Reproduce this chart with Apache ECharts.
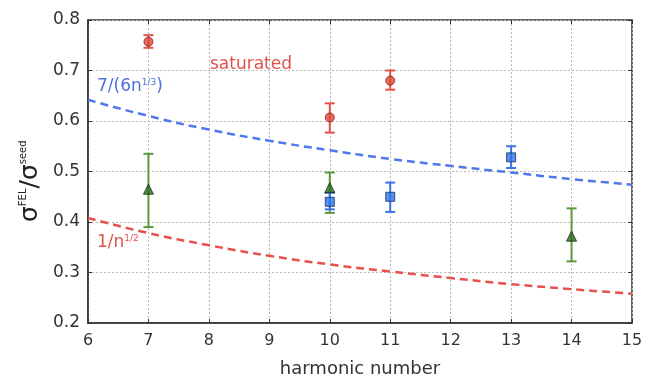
<!DOCTYPE html>
<html>
<head>
<meta charset="utf-8">
<script src="https://cdn.jsdelivr.net/npm/echarts@6/dist/echarts.min.js"></script>
<style>
  html, body { margin: 0; padding: 0; background: #fff; }
  #chart { width: 646px; height: 383px; }
</style>
</head>
<body>
<div id="chart"></div>
<script>
var curveN = [6, 7, 8, 9, 10, 11, 12, 13, 14, 15]
// 7/(6n^1/3) curve
var blueCurve = [0.642, 0.610, 0.583, 0.561, 0.542, 0.525, 0.511, 0.498, 0.485, 0.474]
// 1/n^1/2 curve
var redCurve = [0.408, 0.378, 0.354, 0.333, 0.316, 0.302, 0.289, 0.277, 0.267, 0.258]

// measured points: [n, value, low, high]
var saturated = [[7, 0.757, 0.745, 0.770], [10, 0.607, 0.577, 0.635], [11, 0.680, 0.662, 0.700]]
var greenPts = [[7, 0.465, 0.390, 0.535], [10, 0.468, 0.418, 0.498], [14, 0.372, 0.322, 0.427]]
var bluePts = [[10, 0.440, 0.425, 0.458], [11, 0.450, 0.420, 0.478], [13, 0.528, 0.507, 0.550]]

var xTicks = [6, 7, 8, 9, 10, 11, 12, 13, 14, 15]
var yTicks = [0.2, 0.3, 0.4, 0.5, 0.6, 0.7, 0.8]

var chart = echarts.init(document.getElementById('chart'))

function pairs(xs, ys) {
  return xs.map(function(x, i) { return [x, ys[i]] })
}

function errBar(color) {
  return function(params, api) {
    var x = api.value(0)
    var lo = api.coord([x, api.value(2)])
    var hi = api.coord([x, api.value(3)])
    var w = 5
    var st = { stroke: color, lineWidth: 2 }
    return {
      type: 'group',
      children: [
        { type: 'line', shape: { x1: lo[0], y1: lo[1], x2: hi[0], y2: hi[1] }, style: st },
        { type: 'line', shape: { x1: lo[0] - w, y1: lo[1], x2: lo[0] + w, y2: lo[1] }, style: st },
        { type: 'line', shape: { x1: hi[0] - w, y1: hi[1], x2: hi[0] + w, y2: hi[1] }, style: st }
      ]
    }
  }
}

var font = 'DejaVu Sans'
var gridLine = { show: true, lineStyle: { color: '#b8b8b8', type: [2, 2], width: 1 } }

chart.setOption({
  animation: false,
  backgroundColor: '#fff',
  grid: { left: 88, right: 14, top: 20, bottom: 59, show: true, borderColor: '#333', borderWidth: 1.5 },
  xAxis: [
    {
      type: 'value', min: 6, max: 15, interval: 1,
      name: 'harmonic number', nameLocation: 'middle', nameGap: 37,
      nameTextStyle: { fontFamily: font, fontSize: 18, color: '#333' },
      axisLine: { lineStyle: { color: '#333', width: 1.5 } },
      axisTick: { inside: true, length: 4, lineStyle: { color: '#333' } },
      axisLabel: { fontFamily: font, fontSize: 16, color: '#333', margin: 10,
        formatter: function(v) { return xTicks.indexOf(v) >= 0 ? String(v) : '' } },
      splitLine: gridLine
    },
    {
      type: 'value', min: 6, max: 15, interval: 1, position: 'top',
      axisLine: { show: false }, axisLabel: { show: false }, splitLine: { show: false },
      axisTick: { inside: true, length: 4, lineStyle: { color: '#333' } }
    }
  ],
  yAxis: [
    {
      type: 'value', min: 0.2, max: 0.8, interval: 0.1,
      axisLine: { show: true, lineStyle: { color: '#333', width: 1.5 } },
      axisTick: { show: true, inside: true, length: 4, lineStyle: { color: '#333' } },
      axisLabel: { fontFamily: font, fontSize: 17, color: '#333', margin: 8,
        formatter: function(v) { return v.toFixed(1) } },
      splitLine: gridLine
    },
    {
      type: 'value', min: 0.2, max: 0.8, interval: 0.1, position: 'right',
      axisLine: { show: false }, axisLabel: { show: false }, splitLine: { show: false },
      axisTick: { show: true, inside: true, length: 4, lineStyle: { color: '#333' } }
    }
  ],
  graphic: [
    {
      type: 'text', x: 18, y: 222, rotation: Math.PI / 2,
      style: {
        text: '{b|σ}{s|FEL}{b|/σ}{s|seed}',
        fill: '#222',
        rich: {
          b: { fontFamily: font, fontSize: 25, fill: '#222', verticalAlign: 'bottom' },
          s: { fontFamily: font, fontSize: 10, fill: '#222', verticalAlign: 'top', padding: [0, 0, 14, 0] }
        }
      }
    },
    {
      type: 'text', x: 210, y: 56,
      style: { text: 'saturated', fill: '#e0534d', fontFamily: font, fontSize: 17 }
    },
    {
      type: 'text', x: 97, y: 78,
      style: {
        text: '{b|7/(6n}{s|1/3}{b|)}',
        rich: {
          b: { fontFamily: font, fontSize: 17, fill: '#4a73e0', verticalAlign: 'bottom' },
          s: { fontFamily: font, fontSize: 9, fill: '#4a73e0', verticalAlign: 'top', padding: [0, 0, 8, 0] }
        }
      }
    },
    {
      type: 'text', x: 97, y: 234,
      style: {
        text: '{b|1/n}{s|1/2}',
        rich: {
          b: { fontFamily: font, fontSize: 17, fill: '#e0534d', verticalAlign: 'bottom' },
          s: { fontFamily: font, fontSize: 9, fill: '#e0534d', verticalAlign: 'top', padding: [0, 0, 8, 0] }
        }
      }
    }
  ],
  series: [
    {
      type: 'line', data: pairs(curveN, blueCurve), smooth: true, symbol: 'none',
      lineStyle: { color: '#5078ec', width: 2.5, type: [8, 5] }
    },
    {
      type: 'line', data: pairs(curveN, redCurve), smooth: true, symbol: 'none',
      lineStyle: { color: '#e8504c', width: 2.5, type: [8, 5] }
    },
    { type: 'custom', data: saturated, renderItem: errBar('#e0534d'), z: 3 },
    { type: 'custom', data: greenPts, renderItem: errBar('#5a9a3c'), z: 3 },
    { type: 'custom', data: bluePts, renderItem: errBar('#3f72e6'), z: 3 },
    {
      type: 'scatter', data: saturated, symbol: 'circle', symbolSize: 9, z: 5,
      itemStyle: { color: '#e0473c', borderColor: '#8a1a14', borderWidth: 1 }
    },
    {
      type: 'scatter', data: greenPts, symbol: 'triangle', symbolSize: 10, z: 5,
      itemStyle: { color: '#2f6a22', borderColor: '#102a08', borderWidth: 1 }
    },
    {
      type: 'scatter', data: bluePts, symbol: 'rect', symbolSize: 9, z: 5,
      itemStyle: { color: '#2f74e8', borderColor: '#12306a', borderWidth: 1 }
    }
  ]
})
</script>
</body>
</html>
